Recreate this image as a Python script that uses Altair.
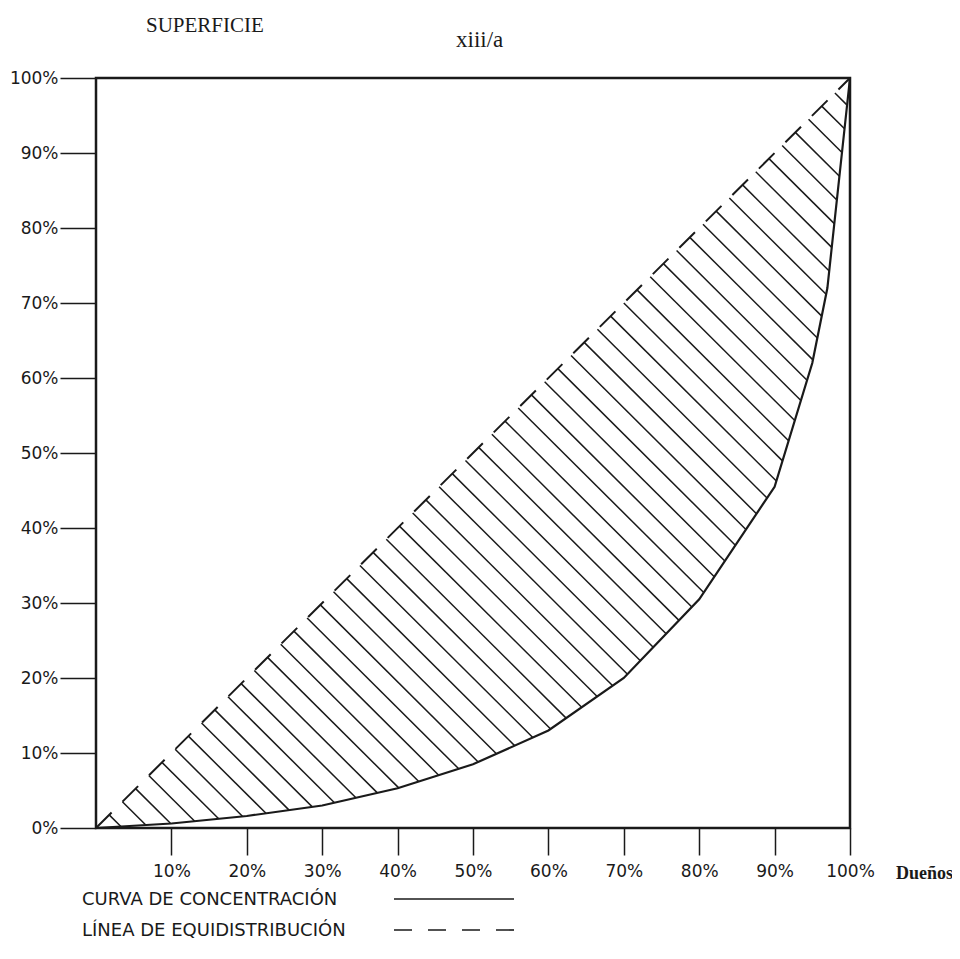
import altair as alt
import numpy as np
import pandas as pd

# ---- data (Lorenz / concentration curve) ----
owners_pct = [0, 10, 20, 30, 40, 50, 60, 70, 80, 90, 95, 97, 100]      # % Dueños
area_pct = [0, 0.6, 1.6, 3.0, 5.3, 8.5, 13.0, 20.0, 30.5, 45.5, 62.0, 72.0, 100]  # % Superficie
equi_x = [0, 100]
equi_y = [0, 100]
x_tick_values = [10, 20, 30, 40, 50, 60, 70, 80, 90, 100]
y_tick_values = [0, 10, 20, 30, 40, 50, 60, 70, 80, 90, 100]
title_left = ["SUPERFICIE"]
title_mid = ["xiii/a"]
x_title = ["Dueños"]
legend_labels = ["CURVA DE CONCENTRACIÓN", "LÍNEA DE EQUIDISTRIBUCIÓN"]
hatch_step = 3.5  # spacing of the hatching (in x+y units)

W, H = 754, 750

curve_df = pd.DataFrame({"x": owners_pct, "y": area_pct})
equi_df = pd.DataFrame({"x": equi_x, "y": equi_y})

# hatching between the equidistribution line and the curve (lines x + y = c)
ox = np.array(owners_pct, dtype=float)
oy = np.array(area_pct, dtype=float)
s = ox + oy
cs = np.arange(hatch_step, 200 - 0.5, hatch_step)
xb = np.interp(cs, s, ox)
yb = cs - xb
hatch_df = pd.DataFrame({"x": cs / 2, "y": cs / 2, "x2": xb, "y2": yb})

xscale = alt.Scale(domain=[0, 100], nice=False, zero=False)
yscale = alt.Scale(domain=[0, 100], nice=False, zero=False)

label_font = "DejaVu Sans"
ink = "#1a1a1a"

x_axis = alt.Axis(
    values=x_tick_values, labelExpr="datum.value + '%'", title=None, grid=False,
    domain=False, tickSize=27, tickWidth=1.5, tickColor=ink, labelFont=label_font,
    labelFontSize=17, labelColor=ink, labelPadding=8, labelFlush=False,
)
y_axis = alt.Axis(
    values=y_tick_values, labelExpr="datum.value + '%'", title=None, grid=False,
    domain=False, tickSize=36, tickWidth=1.5, tickColor=ink, labelFont=label_font,
    labelFontSize=17, labelColor=ink, labelPadding=2, labelFlush=False,
)

X = alt.X("x:Q", scale=xscale, axis=x_axis)
Y = alt.Y("y:Q", scale=yscale, axis=y_axis)

hatch = alt.Chart(hatch_df).mark_rule(color=ink, strokeWidth=1.5).encode(
    x=X, y=Y, x2="x2:Q", y2="y2:Q",
)

curve = alt.Chart(curve_df).mark_line(color=ink, strokeWidth=2.2).encode(x=X, y=Y)

equi = alt.Chart(equi_df).mark_line(color=ink, strokeWidth=2, strokeDash=[22, 15.4]).encode(x=X, y=Y)


def text_layer(values, x, y, size, font, weight="normal", align="left"):
    return alt.Chart(pd.DataFrame({"t": values})).mark_text(
        font=font, fontSize=size, fontWeight=weight, color=ink, align=align, baseline="alphabetic"
    ).encode(x=alt.value(x), y=alt.value(y), text="t:N")


t_sup = text_layer(title_left, 50, -46, 21, "Liberation Serif")
t_mid = text_layer(title_mid, 360, -31, 23, "Liberation Serif")
t_due = text_layer(x_title, 800, 801, 18, "Liberation Serif", weight="bold")
t_leg1 = text_layer(legend_labels[:1], -14, 827, 18, label_font)
t_leg2 = text_layer(legend_labels[1:], -14, 858, 18, label_font)

leg_solid = alt.Chart(pd.DataFrame({"k": [0]})).mark_rule(color=ink, strokeWidth=1.6).encode(
    x=alt.value(298), x2=alt.value(418), y=alt.value(821)
)
leg_dash = alt.Chart(pd.DataFrame({"k": [0]})).mark_rule(
    color=ink, strokeWidth=1.6, strokeDash=[18, 16]
).encode(x=alt.value(298), x2=alt.value(418), y=alt.value(852))

chart = alt.layer(
    hatch, curve, equi, t_sup, t_mid, t_due, t_leg1, t_leg2, leg_solid, leg_dash
).properties(
    width=W, height=H,
    autosize=alt.AutoSizeParams(type="none"),
    padding={"left": 88, "top": 70, "right": 102, "bottom": 120},
).configure(
    background="white"
).configure_view(
    stroke=ink, strokeWidth=2.5
)

chart.save("out.html", embed_options={"renderer": "svg", "actions": False})
